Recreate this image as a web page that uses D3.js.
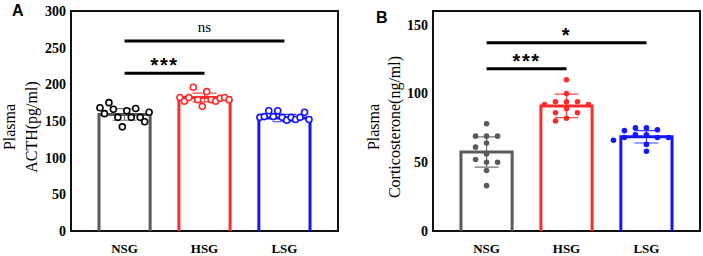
<!DOCTYPE html>
<html>
<head>
    <meta charset="utf-8" />
    <title>Plasma ACTH and corticosterone</title>
    <script src="https://cdn.jsdelivr.net/npm/d3@7"></script>
    <style>
        body { margin: 0; background: #fff; }
        svg text { fill: #000; }
    </style>
</head>
<body>
    <script>

        // groups and colours
        var groups = ["NSG", "HSG", "LSG"];
        var colors = ["#5a5a5a", "#ff2a2a", "#1414ff"];
        var dotColorsA = ["#000", "#ff2a2a", "#1414ff"];

        // panel A: plasma ACTH (pg/ml), points listed left to right as drawn
        var acthMean = [159, 182, 154];
        var acthSD = [8, 6, 5];
        var acthNSG = [168, 160, 175, 166, 155, 142, 164, 155, 167, 155, 149, 162];
        var acthHSG = [182, 177, 182, 196, 179, 170, 190, 179, 177, 181, 182, 179];
        var acthLSG = [155, 156, 164, 156, 164, 155, 151, 155, 152, 155, 162, 152];
        var acthTicks = [0, 50, 100, 150, 200, 250, 300];

        // panel B: plasma corticosterone (ng/ml)
        var cortMean = [57.5, 91, 68.5];
        var cortSD = [11, 8.5, 4.5];
        var cortNSG = [78, 69, 69, 69, 64, 61, 56, 52, 50, 50, 44, 33];
        var cortHSG = [110, 100, 94, 94, 94, 92, 92, 89, 86, 86, 82, 80];
        var cortLSG = [75, 75, 73.6, 73, 70, 70, 68, 68, 68, 66, 63, 58];
        var cortTicks = [0, 50, 100, 150];

        // significance brackets
        var sigA = [["NSG", "HSG", 215, "***"], ["NSG", "LSG", 259, "ns"]];
        var sigB = [["NSG", "HSG", 118, "***"], ["NSG", "LSG", 137, "*"]];

        var w = 703, h = 256;

        var svg = d3.select("body").append("svg")
            .attr("width", w)
            .attr("height", h);

        // column beeswarm (panel B)
        function swarm(vals, cx, y, step, r) {
            var placed = [];
            vals.forEach(function (v) {
                var py = y(v);
                for (var k = 0; k < 20; k++) {
                    var off = (k % 2 === 0 ? 1 : -1) * Math.ceil(k / 2);
                    var px = cx + off * step;
                    var hit = placed.some(function (p) {
                        return Math.abs(p.x - px) < 1 && Math.abs(p.y - py) < 2 * r + 1;
                    });
                    if (!hit) { placed.push({ x: px, y: py }); break; }
                }
            });
            return placed;
        }

        // spread across the bar in listed order (panel A)
        function spread(vals, x0, bw, y) {
            var sx = d3.scalePoint().domain(d3.range(vals.length)).range([x0 + 1, x0 + bw - 1]);
            return vals.map(function (v, i) { return { x: sx(i), y: y(v) }; });
        }

        function panel(o) {
            var g = svg.append("g");

            var x = d3.scaleBand()
                .domain(groups)
                .range([o.left, o.left + 267])
                .paddingInner(0.36)
                .paddingOuter(0.35);

            var y = d3.scaleLinear()
                .domain([0, o.max])
                .range([231, 11]);

            // frame
            g.append("rect")
                .attr("x", o.left).attr("y", 11)
                .attr("width", 267).attr("height", 220)
                .attr("fill", "none")
                .attr("stroke", "#111")
                .attr("stroke-width", 2);

            // y axis labels
            var yAxis = d3.axisLeft(y).tickValues(o.ticks).tickSize(0).tickPadding(5);
            g.append("g")
                .attr("transform", "translate(" + o.left + ",0)")
                .call(yAxis)
                .call(function (a) { a.select(".domain").remove(); })
                .selectAll("text")
                .attr("font-family", "Liberation Serif")
                .attr("font-weight", "bold")
                .attr("font-size", 14);

            // x axis labels
            var xAxis = d3.axisBottom(x).tickSize(0).tickPadding(13);
            g.append("g")
                .attr("transform", "translate(0,231)")
                .call(xAxis)
                .call(function (a) { a.select(".domain").remove(); })
                .selectAll("text")
                .attr("font-family", "Liberation Serif")
                .attr("font-weight", "bold")
                .attr("font-size", 13);

            // bars (open, no bottom edge)
            g.selectAll(".bar")
                .data(o.mean)
                .enter()
                .append("path")
                .attr("class", "bar")
                .attr("d", function (d, i) {
                    var x0 = x(groups[i]), x1 = x0 + x.bandwidth();
                    return "M" + x0 + ",231V" + y(d) + "H" + x1 + "V231";
                })
                .attr("fill", "none")
                .attr("stroke", function (d, i) { return colors[i]; })
                .attr("stroke-width", 3);

            // error bars
            var eb = g.selectAll(".err")
                .data(o.mean)
                .enter()
                .append("g")
                .attr("stroke", function (d, i) { return colors[i]; })
                .attr("stroke-width", 1.2)
                .attr("stroke-opacity", 0.85);
            eb.append("path")
                .attr("d", function (d, i) {
                    var cx = x(groups[i]) + x.bandwidth() / 2;
                    var lo = y(d - o.sd[i]), hi = y(d + o.sd[i]);
                    return "M" + cx + "," + lo + "V" + hi +
                        "M" + (cx - 12) + "," + hi + "H" + (cx + 12) +
                        "M" + (cx - 12) + "," + lo + "H" + (cx + 12);
                })
                .attr("fill", "none");

            // dots
            o.points.forEach(function (vals, i) {
                var cx = x(groups[i]) + x.bandwidth() / 2;
                var pts = o.open
                    ? spread(vals, x(groups[i]), x.bandwidth(), y)
                    : swarm(vals, cx, y, o.step, o.r);
                g.selectAll(".dot" + i)
                    .data(pts)
                    .enter()
                    .append("circle")
                    .attr("cx", function (d) { return d.x; })
                    .attr("cy", function (d) { return d.y; })
                    .attr("r", o.r)
                    .attr("fill", o.open ? "#fff" : o.dotColors[i])
                    .attr("stroke", o.open ? o.dotColors[i] : "none")
                    .attr("stroke-width", 1.6);
            });

            // significance lines
            o.sig.forEach(function (s) {
                var xa = x(s[0]) + x.bandwidth() / 2;
                var xb = x(s[1]) + x.bandwidth() / 2;
                var ly = y(s[2]);
                g.append("line")
                    .attr("x1", xa).attr("x2", xb)
                    .attr("y1", ly).attr("y2", ly)
                    .attr("stroke", "#000")
                    .attr("stroke-width", 3);
                var isStar = s[3] !== "ns";
                g.append("text")
                    .attr("x", (xa + xb) / 2)
                    .attr("y", isStar ? ly - 1 : ly - 9)
                    .attr("text-anchor", "middle")
                    .attr("font-family", isStar ? "Liberation Sans" : "Liberation Serif")
                    .attr("font-weight", isStar ? "bold" : "normal")
                    .attr("font-size", isStar ? 20 : 15)
                    .attr("letter-spacing", isStar ? 1.5 : 0)
                    .text(s[3]);
            });

            // y title, two lines
            o.title.forEach(function (t, k) {
                g.append("text")
                    .attr("transform", "translate(" + o.titleX[k] + ",127) rotate(-90)")
                    .attr("text-anchor", "middle")
                    .attr("font-family", "Liberation Serif")
                    .attr("font-size", 16)
                    .text(t);
            });

            // panel letter
            g.append("text")
                .attr("x", o.letterX).attr("y", o.letterY)
                .attr("font-family", "Liberation Sans")
                .attr("font-weight", "bold")
                .attr("font-size", 16)
                .text(o.letter);
        }

        panel({
            left: 71, max: 300, ticks: acthTicks,
            mean: acthMean, sd: acthSD,
            points: [acthNSG, acthHSG, acthLSG],
            dotColors: dotColorsA, open: true, r: 3,
            sig: sigA,
            title: ["Plasma", "ACTH(pg/ml)"], titleX: [15, 37],
            letter: "A", letterX: 12, letterY: 16
        });

        panel({
            left: 433, max: 160, ticks: cortTicks,
            mean: cortMean, sd: cortSD,
            points: [cortNSG, cortHSG, cortLSG],
            dotColors: colors, open: false, r: 2.8, step: 11,
            sig: sigB,
            title: ["Plasma", "Corticosterone(ng/ml)"], titleX: [379, 400],
            letter: "B", letterX: 376, letterY: 23
        });

    </script>
</body>
</html>
